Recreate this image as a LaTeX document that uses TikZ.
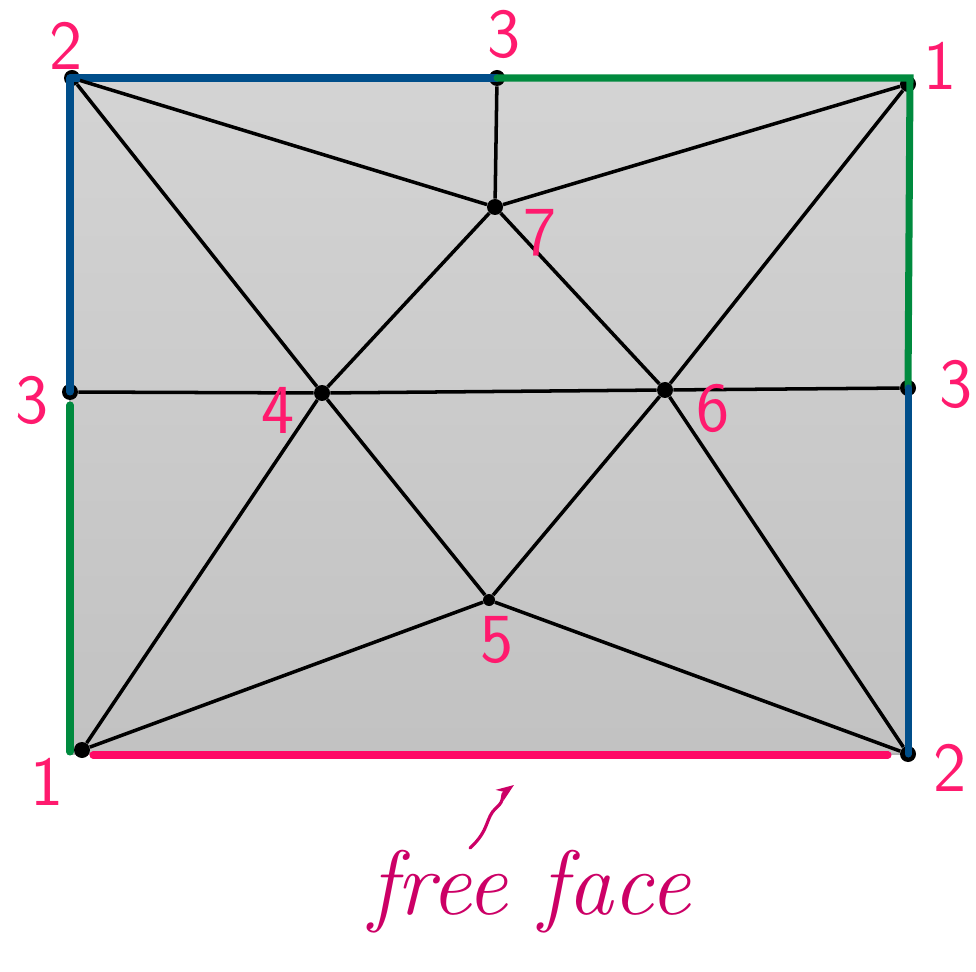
\documentclass[tikz,border=0pt]{standalone}
\usepackage{tikz}
\usetikzlibrary{arrows.meta, positioning}

\definecolor{edgeblue}{HTML}{004E8A}
\definecolor{edgegreen}{HTML}{008A3E}
\definecolor{edgepink}{HTML}{FF0A66}
\definecolor{numpink}{HTML}{FF1A6E}
\definecolor{notepink}{HTML}{CC0066}

\begin{document}
\begin{tikzpicture}[
    x=0.02cm, y=-0.02cm,
    vtx/.style={circle, fill=black, inner sep=0pt, minimum size=0.32cm},
    num/.style={text=numpink, font=\sffamily\fontsize{40}{40}\selectfont, inner sep=0pt},
    mesh/.style={line width=2pt, black},
    rim/.style={line width=4pt, line cap=round},
]
\useasboundingbox (0,0) rectangle (976,972);

% === FACE ===
\shade[top color=black!17, bottom color=black!24, draw=gray!60, line width=0.6pt]
    (70,78) rectangle (908,754);

% === VERTICES ===
\node[vtx] (c2tl) at (72,78) {};
\node[vtx] (c3t)  at (497,78) {};
\node[vtx] (c1tr) at (908,84) {};
\node[vtx] (c3l)  at (70,392) {};
\node[vtx] (c3r)  at (908,388) {};
\node[vtx] (c1bl) at (82,750) {};
\node[vtx] (c2br) at (908,754) {};
\node[vtx] (v7) at (495,207) {};
\node[vtx] (v4) at (322,393) {};
\node[vtx] (v6) at (665,390) {};
\node[vtx, minimum size=0.24cm] (v5) at (489,600) {};

% === BOUNDARY ===
\draw[rim, edgeblue]  (70,78) -- (c3t.center);
\draw[rim, edgegreen] (c3t.center) -- (910,78) -- (c3r.center);
\draw[rim, edgeblue]  (c3r.center) -- (c2br.center);
\draw[rim, edgeblue]  (70,78) -- (c3l.center);
\draw[rim, edgegreen] (70,405) -- (70,752);
\draw[rim, edgepink]  (93,755) -- (888,755);

% === MESH ===
\draw[mesh] (c2tl) -- (v7);
\draw[mesh] (c2tl) -- (v4);
\draw[mesh] (c3t) -- (v7);
\draw[mesh] (c1tr) -- (v7);
\draw[mesh] (c1tr) -- (v6);
\draw[mesh] (v7) -- (v4);
\draw[mesh] (v7) -- (v6);
\draw[mesh] (c3l) -- (v4);
\draw[mesh] (v4) -- (v6);
\draw[mesh] (v6) -- (c3r);
\draw[mesh] (v4) -- (c1bl);
\draw[mesh] (v4) -- (v5);
\draw[mesh] (v6) -- (v5);
\draw[mesh] (v6) -- (c2br);
\draw[mesh] (v5) -- (c1bl);
\draw[mesh] (v5) -- (c2br);

% === NUMBERS ===
\node[num] (n2tl) at (66,46) {2};
\node[num] (n3t)  at (504,34) {3};
\node[num] (n1tr) at (940,66) {1};
\node[num] (n3l)  at (32,400) {3};
\node[num] (n3r)  at (956,384) {3};
\node[num] (n1bl) at (47,782) {1};
\node[num] (n2br) at (950,768) {2};
\node[num] (n7) at (540,233) {7};
\node[num] (n4) at (278,410) {4};
\node[num] (n6) at (713,408) {6};
\node[num] (n5) at (497,640) {5};

% === NOTE ===
\node[text=notepink, font=\itshape\fontsize{52}{52}\selectfont] (note) at (530,892) {free face};
\coordinate (tail) at (470,848);
\coordinate (tip) at (514,785);
\draw[notepink, line width=1.8pt, line cap=round, -{Stealth[length=10pt, open]}]
    (tail) .. controls (490,830) and (485,818) .. (496,808)
    .. controls (506,800) and (500,795) .. (tip);

\end{tikzpicture}
\end{document}
